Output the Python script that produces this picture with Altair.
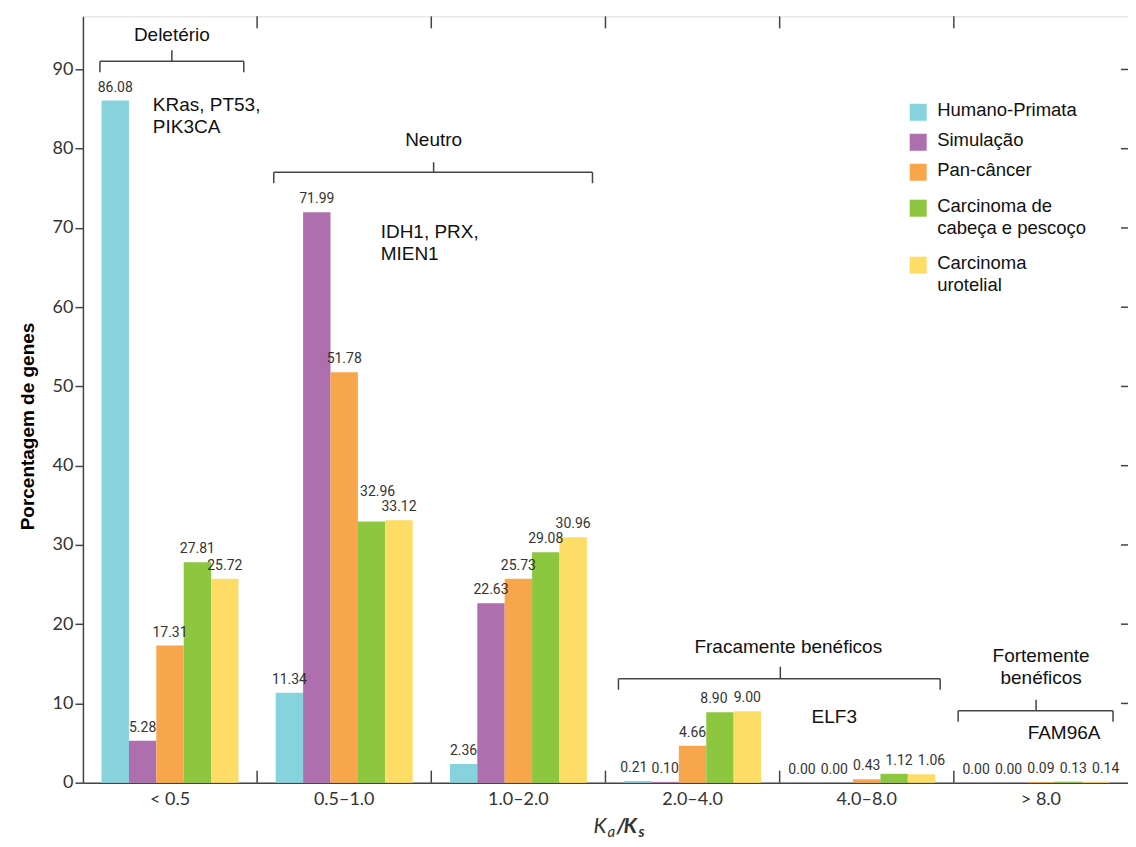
import altair as alt
import pandas as pd

categories = ["< 0.5", "0.5–1.0", "1.0–2.0", "2.0–4.0", "4.0–8.0", "> 8.0"]
series = ["Humano-Primata", "Simulação", "Pan-câncer",
          "Carcinoma de cabeça e pescoço", "Carcinoma urotelial"]
legend_labels = ["Humano-Primata", "Simulação", "Pan-câncer",
                 "Carcinoma de\ncabeça e pescoço", "Carcinoma\nurotelial"]
colors = ["#86D3DE", "#AD6FAD", "#F8A64B", "#8DC63F", "#FEDD67"]

humano_primata = [86.08, 11.34, 2.36, 0.21, 0.00, 0.00]
simulacao = [5.28, 71.99, 22.63, 0.10, 0.00, 0.00]
pan_cancer = [17.31, 51.78, 25.73, 4.66, 0.43, 0.09]
cabeca_pescoco = [27.81, 32.96, 29.08, 8.90, 1.12, 0.13]
urotelial = [25.72, 33.12, 30.96, 9.00, 1.06, 0.14]

y_ticks = [0, 10, 20, 30, 40, 50, 60, 70, 80, 90]

W, H = 1046, 767
Y_MAX = 96.7
NUM_FONT = "Roboto"
TXT_FONT = "Liberation Sans, Arial"
AX_FONT = "Lato"

rows = []
for si, (s, vals) in enumerate(zip(series, [humano_primata, simulacao, pan_cancer,
                                             cabeca_pescoco, urotelial])):
    for c, v in zip(categories, vals):
        raised = (c == "0.5–1.0" and si == 3)
        # label nudges so that neighbouring value labels don't collide
        if c in ("4.0–8.0", "> 8.0"):
            dx = (si - 2) * 5
        elif c == "2.0–4.0" and si == 3:
            dx = -6
        elif c == "2.0–4.0" and si == 0:
            dx = -4
        elif raised:
            dx = 6
        else:
            dx = 0
        rows.append({"cat": c, "series": s, "value": v, "label": f"{v:.2f}",
                     "raised": raised, "dx": dx})
df = pd.DataFrame(rows)

x_enc = alt.X("cat:N", sort=categories,
              scale=alt.Scale(paddingInner=0, paddingOuter=0),
              axis=alt.Axis(title=None, ticks=False, labelFontSize=18, labelFont=AX_FONT,
                            labelColor="#333333", labelPadding=8, domainColor="#444444",
                            domainWidth=1.5, labelAngle=0))
xo_enc = alt.XOffset("series:N", sort=series,
                     scale=alt.Scale(paddingInner=0, paddingOuter=0.68))
y_enc = alt.Y("value:Q", scale=alt.Scale(domain=[0, Y_MAX], nice=False, zero=True),
              axis=alt.Axis(values=y_ticks, title="Porcentagem de genes", grid=False,
                            tickSize=8, tickColor="#444444", tickWidth=1.5,
                            domainColor="#444444", domainWidth=1.5,
                            labelFontSize=18, labelFont=AX_FONT, labelColor="#333333",
                            labelPadding=2, titleFontSize=19, titleFont=TXT_FONT,
                            titleFontWeight="bold", titleColor="#000000",
                            titleX=-55, titleY=410, titleAngle=270,
                            titleAlign="center", titleBaseline="middle"))

base = alt.Chart(df)
bars = base.mark_bar().encode(
    x=x_enc, xOffset=xo_enc, y=y_enc,
    color=alt.Color("series:N", scale=alt.Scale(domain=series, range=colors), legend=None),
)
lab_enc = dict(x=alt.X("cat:N", sort=categories),
               xOffset=alt.XOffset("series:N", sort=series),
               y="value:Q", text="label:N")
layers = [bars]
for dxv in sorted(df["dx"].unique()):
    for raised in (False, True):
        sub = df[(df["dx"] == dxv) & (df["raised"] == raised)]
        if sub.empty:
            continue
        flt = f"datum.dx == {int(dxv)} && datum.raised == {'true' if raised else 'false'}"
        layers.append(base.transform_filter(flt).mark_text(
            baseline="bottom", dy=-23 if raised else -6, dx=int(dxv), fontSize=14,
            font=NUM_FONT, color="#333333").encode(**lab_enc))

# frame ticks
bound_df = pd.DataFrame({"cat": categories[1:]})
bottom_ticks = alt.Chart(bound_df).mark_rule(color="#444444", strokeWidth=1.5).encode(
    x=alt.X("cat:N", sort=categories, bandPosition=0),
    y=alt.value(H - 12), y2=alt.value(H))
top_ticks = alt.Chart(bound_df).mark_rule(color="#444444", strokeWidth=1.5).encode(
    x=alt.X("cat:N", sort=categories, bandPosition=0),
    y=alt.value(0), y2=alt.value(12))
right_ticks = alt.Chart(pd.DataFrame({"v": y_ticks[1:]})).mark_rule(
    color="#444444", strokeWidth=1.5).encode(
    y="v:Q", x=alt.value(W - 7), x2=alt.value(W))
layers += [bottom_ticks, top_ticks, right_ticks]

# brackets: (left, right, y, center, y_top)
brackets = [
    (17, 161, 45, 89, 34),
    (191, 510, 156, 351, 146),
    (536, 858, 663, 698, 651),
    (876, 1031, 695, 954, 684),
]
LINE = "#444444"
for l, r, yb, c, yt in brackets:
    layers.append(alt.Chart().mark_rule(color=LINE, strokeWidth=1.5).encode(
        x=alt.value(l), x2=alt.value(r), y=alt.value(yb)))
    layers.append(alt.Chart().mark_rule(color=LINE, strokeWidth=1.5).encode(
        x=alt.value(l), y=alt.value(yb), y2=alt.value(yb + 11)))
    layers.append(alt.Chart().mark_rule(color=LINE, strokeWidth=1.5).encode(
        x=alt.value(r), y=alt.value(yb), y2=alt.value(yb + 11)))
    layers.append(alt.Chart().mark_rule(color=LINE, strokeWidth=1.5).encode(
        x=alt.value(c), y=alt.value(yt), y2=alt.value(yb)))

# annotation texts: (text, x, y, align)
annots = [
    ("Deletério", 89, 19, "center"),
    ("KRas, PT53,\nPIK3CA", 70, 89, "left"),
    ("Neutro", 351, 124, "center"),
    ("IDH1, PRX,\nMIEN1", 298, 216, "left"),
    ("Fracamente benéficos", 706, 631, "center"),
    ("ELF3", 752, 701, "center"),
    ("Fortemente\nbenéficos", 959, 640, "center"),
    ("FAM96A", 982, 717, "center"),
]
for t, x, y, a in annots:
    layers.append(alt.Chart().mark_text(
        text=t, align=a, baseline="middle", fontSize=19, font=TXT_FONT,
        color="#111111", lineBreak="\n", lineHeight=22).encode(
        x=alt.value(x), y=alt.value(y)))

# legend
leg_sq_y = [96, 126, 156, 192, 249]
for lab, col, yy in zip(legend_labels, colors, leg_sq_y):
    layers.append(alt.Chart().mark_square(size=289, color=col, opacity=1).encode(
        x=alt.value(836), y=alt.value(yy)))
    layers.append(alt.Chart().mark_text(
        text=lab, align="left", baseline="top", fontSize=18.5, font=TXT_FONT,
        color="#111111", lineBreak="\n", lineHeight=22).encode(
        x=alt.value(855), y=alt.value(yy - 11)))

# x axis title Ka/Ks
ka = [("K", 511, 21, "italic", "normal", 0),
      ("a", 525, 15, "italic", "normal", 5),
      ("/", 534, 21, "italic", "bold", 0),
      ("K", 541, 21, "italic", "bold", 0),
      ("s", 556, 15, "italic", "bold", 5)]
for t, x, fs, sty, wt, dy in ka:
    layers.append(alt.Chart().mark_text(
        text=t, align="left", baseline="middle", fontSize=fs, font=AX_FONT,
        fontStyle=sty, fontWeight=wt, color="#333333", dy=dy).encode(
        x=alt.value(x), y=alt.value(H + 44)))

chart = alt.layer(*layers).properties(
    width=W, height=H,
    autosize=alt.AutoSizeParams(type="none"),
    padding={"left": 75, "top": 8, "right": 0, "bottom": 62},
).configure_view(stroke="#444444", strokeWidth=1.5).configure(background="white")

chart.save("out.html", embed_options={"renderer": "svg", "actions": False})
